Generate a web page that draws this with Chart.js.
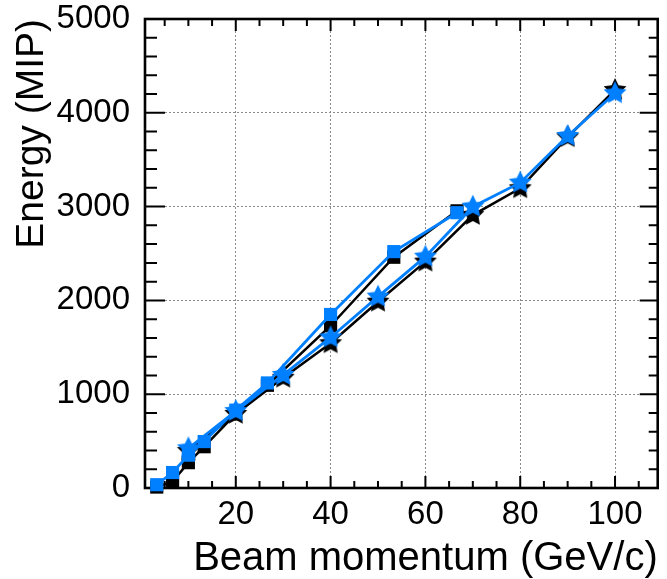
<!DOCTYPE html>
<html><head><meta charset="utf-8">
<script src="https://cdn.jsdelivr.net/npm/chart.js@4/dist/chart.umd.min.js"></script>
<style>html,body{margin:0;padding:0;background:#fff}#wrap{width:667px;height:579px}</style>
</head><body><div id="wrap"><canvas id="c" width="667" height="579"></canvas></div>
<script>
// ---- data ----
const squareMomenta = [3.33, 6.67, 10, 13.33, 20, 26.67, 40, 53.33, 66.67];
const squareBlack   = [10, 70, 270, 440, 790, 1095, 1730, 2460, 2955];
const squareBlue    = [35, 165, 350, 495, 830, 1120, 1850, 2520, 2935];
const starMomenta   = [10, 20, 30, 40, 50, 60, 70, 80, 90, 100];
const starBlack     = [395, 790, 1175, 1543, 1986, 2413, 2910, 3195, 3740, 4243];
const starBlue      = [423, 820, 1205, 1605, 2040, 2466, 2999, 3255, 3753, 4208];
const xTickValues   = [20, 40, 60, 80, 100];
const yTickValues   = [0, 1000, 2000, 3000, 4000, 5000];
const xTitle = 'Beam momentum (GeV/c)';
const yTitle = 'Energy (MIP)';

const BLUE = 'rgb(0,127,255)';
const BLACK = '#000000';
const FONT = "'Liberation Sans', Arial, Helvetica, sans-serif";

function starCanvas(color, R) {
  const s = Math.ceil(R * 2 + 2);
  const cv = document.createElement('canvas');
  cv.width = s; cv.height = s;
  const g = cv.getContext('2d');
  const r = R * 0.5;
  g.beginPath();
  for (let i = 0; i < 10; i++) {
    const ang = -Math.PI / 2 + i * Math.PI / 5;
    const rr = i % 2 === 0 ? R : r;
    const px = s / 2 + rr * Math.cos(ang), py = s / 2 + rr * Math.sin(ang);
    if (i === 0) g.moveTo(px, py); else g.lineTo(px, py);
  }
  g.closePath();
  g.fillStyle = color; g.fill();
  return cv;
}
const starBlackImg = starCanvas(BLACK, 12);
const starBlueImg = starCanvas(BLUE, 12);

const toXY = (xs, ys) => xs.map((x, i) => ({x, y: ys[i]}));
const plain = v => String(v);

const frameTicks = {
  id: 'frameTicks',
  beforeDatasetsDraw(chart) {
    const {ctx, chartArea: a, scales: {x, y}} = chart;
    ctx.save();
    ctx.strokeStyle = '#000';
    ctx.lineWidth = 2;
    ctx.beginPath();
    for (let v = 5; v <= 105; v += 5) {
      const px = x.getPixelForValue(v);
      if (px < a.left || px > a.right) continue;
      const L = v % 20 === 0 ? 12 : 7;
      ctx.moveTo(px, a.bottom); ctx.lineTo(px, a.bottom - L);
      ctx.moveTo(px, a.top); ctx.lineTo(px, a.top + L);
    }
    for (let v = 200; v < 5000; v += 200) {
      const py = y.getPixelForValue(v);
      const major = v % 1000 === 0;
      ctx.moveTo(a.left, py); ctx.lineTo(a.left + (major ? 20 : 12), py);
      ctx.moveTo(a.right, py); ctx.lineTo(a.right - (major ? 18 : 9), py);
    }
    ctx.stroke();
    ctx.lineWidth = 2.6;
    ctx.strokeRect(a.left, a.top, a.right - a.left, a.bottom - a.top);
    ctx.restore();
  }
};

new Chart(document.getElementById('c'), {
  type: 'line',
  data: {
    datasets: [
      { label: 'black squares', data: toXY(squareMomenta, squareBlack), borderColor: BLACK, backgroundColor: BLACK,
        borderWidth: 2.5, pointStyle: 'rect', pointRadius: 9.3, pointBorderWidth: 0, order: 4, clip: false },
      { label: 'black stars', data: toXY(starMomenta, starBlack), borderColor: BLACK, backgroundColor: BLACK,
        borderWidth: 2.5, pointStyle: starBlackImg, pointRadius: 6, order: 3, clip: false },
      { label: 'blue squares', data: toXY(squareMomenta, squareBlue), borderColor: BLUE, backgroundColor: BLUE,
        borderWidth: 2.8, pointStyle: 'rect', pointRadius: 9.3, pointBorderWidth: 0, order: 2, clip: false },
      { label: 'blue stars', data: toXY(starMomenta, starBlue), borderColor: BLUE, backgroundColor: BLUE,
        borderWidth: 2.8, pointStyle: starBlueImg, pointRadius: 6, order: 1, clip: false }
    ]
  },
  options: {
    responsive: false,
    animation: false,
    devicePixelRatio: 1,
    layout: { padding: { top: 19, right: 4, left: 0, bottom: 0 } },
    plugins: { legend: { display: false }, tooltip: { enabled: false } },
    elements: { line: { tension: 0 } },
    scales: {
      x: {
        type: 'linear', min: 0.85, max: 109,
        afterFit(s) { s.height = 91; s.paddingLeft = 0; s.paddingRight = 0; },
        afterBuildTicks(s) { s.ticks = xTickValues.map(v => ({value: v})); },
        grid: { color: '#8a8a8a', lineWidth: 1, drawTicks: false },
        border: { display: false, dash: [2, 2] },
        ticks: { font: { family: FONT, size: 33 }, color: '#000', padding: 7, maxRotation: 0, callback: plain },
        title: { display: true, text: xTitle, align: 'end', color: '#000',
                 font: { family: FONT, size: 40, lineHeight: 1 }, padding: { top: 0, bottom: 0 } }
      },
      y: {
        type: 'linear', min: 0, max: 5000,
        afterFit(s) { s.width = 145; s.paddingTop = 0; s.paddingBottom = 0; },
        afterBuildTicks(s) { s.ticks = yTickValues.map(v => ({value: v})); },
        grid: { color: '#8a8a8a', lineWidth: 1, drawTicks: false },
        border: { display: false, dash: [2, 2] },
        ticks: { font: { family: FONT, size: 33 }, color: '#000', padding: 15, callback: plain },
        title: { display: true, text: yTitle, align: 'end', color: '#000',
                 font: { family: FONT, size: 39, lineHeight: 1 }, padding: { top: 13, bottom: 0 } }
      }
    }
  },
  plugins: [frameTicks]
});
</script>
</body></html>
